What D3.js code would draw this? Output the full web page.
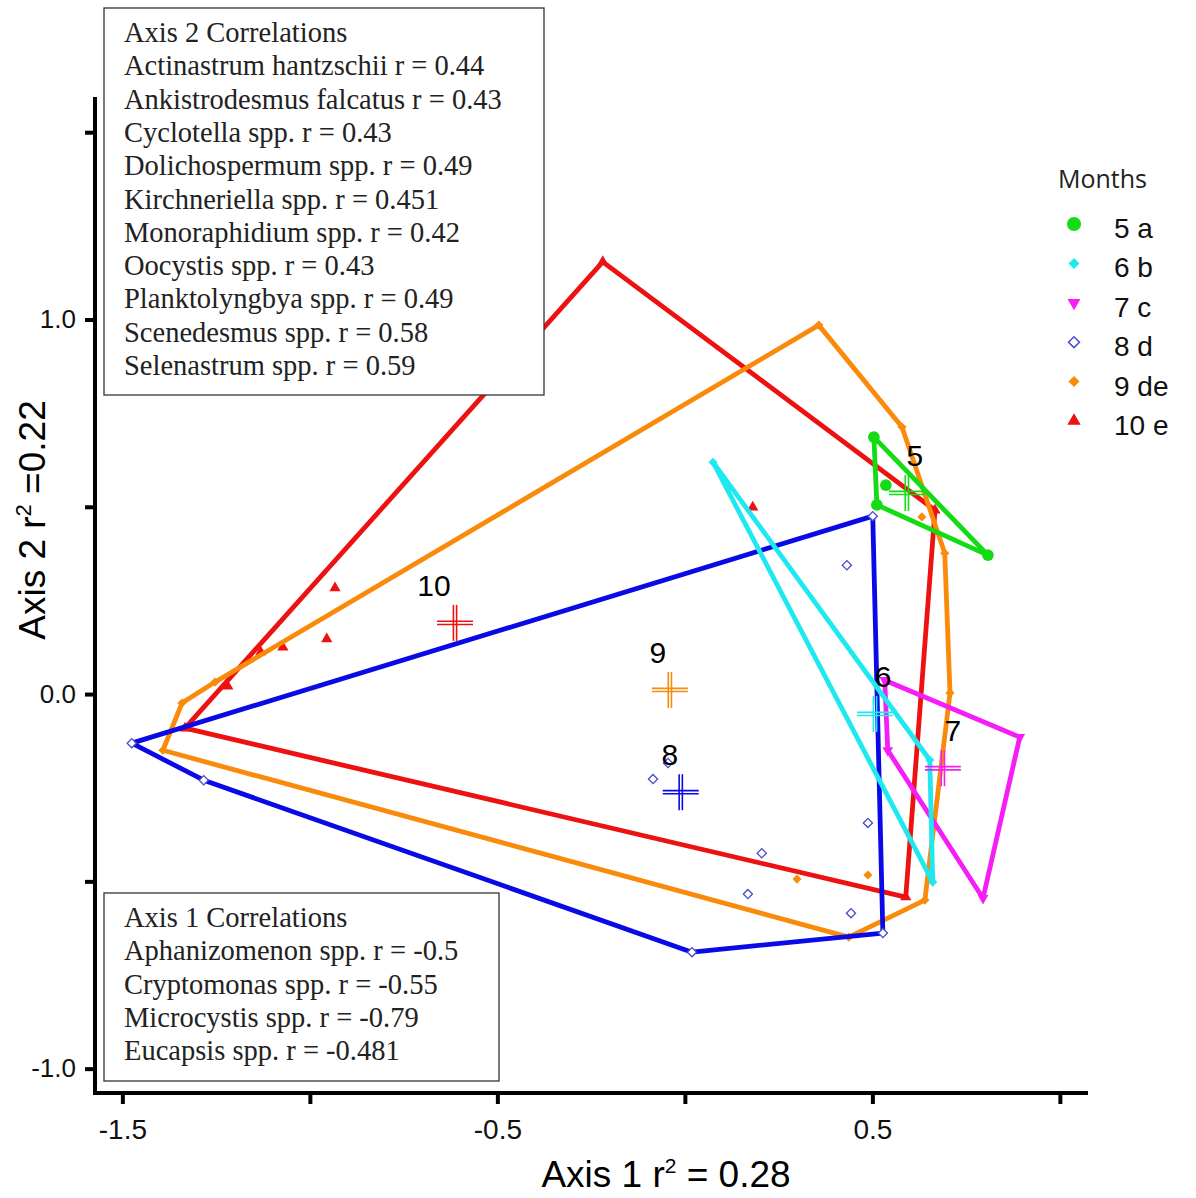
<!DOCTYPE html>
<html>
<head>
<meta charset="utf-8">
<script src="https://cdn.jsdelivr.net/npm/d3@7"></script>
<style>
  body { margin: 0; background: white; }
  .ser { font-family: "Liberation Serif", "DejaVu Serif", serif; fill: #222; }
</style>
</head>
<body>
<script>
// NMDS ordination of phytoplankton samples by month
const months = ["5", "6", "7", "8", "9", "10"]
const legendLabels = ["5 a", "6 b", "7 c", "8 d", "9 de", "10 e"]

// sample scores [axis1, axis2] per month
const pts5 = [[0.504, 0.686], [0.512, 0.505], [0.808, 0.371], [0.536, 0.558]]
const pts6 = [[0.075, 0.619], [0.653, -0.176], [0.661, -0.502]]
const pts7 = [[0.533, 0.037], [0.893, -0.115], [0.795, -0.545], [0.541, -0.150]]
const pts8 = [[-1.475, -0.131], [-1.283, -0.230], [0.019, -0.689], [0.528, -0.638], [0.501, 0.475],
              [-0.045, -0.184], [-0.085, -0.227], [0.488, -0.344], [0.205, -0.425], [0.168, -0.534],
              [0.443, -0.585], [0.432, 0.344]]
const pts9 = [[-1.392, -0.150], [-1.341, -0.024], [-1.253, 0.032], [0.357, 0.985], [0.579, 0.713],
              [0.693, 0.376], [0.707, 0.003], [0.640, -0.550], [0.437, -0.649], [0.299, -0.494],
              [0.488, -0.483], [0.632, 0.473]]
const pts10 = [[-0.219, 1.154], [0.667, 0.491], [0.589, -0.542], [-1.333, -0.091], [-1.219, 0.021],
               [-1.131, 0.112], [-1.072, 0.125], [-0.955, 0.147], [-0.933, 0.283], [0.181, 0.499]]

// group centroids
const centX = [0.592, 0.507, 0.688, -0.011, -0.040, -0.613]
const centY = [0.537, -0.053, -0.198, -0.262, 0.011, 0.190]

const xTicks = [-1.5, -1, -0.5, 0, 0.5, 1]
const xTickLabels = [-1.5, -0.5, 0.5]
const yTicks = [-1, -0.5, 0, 0.5, 1, 1.5]
const yTickLabels = [-1, 0, 1]

const axis2Title = "Axis 2 Correlations"
const axis2Corr = ["Actinastrum hantzschii r = 0.44", "Ankistrodesmus falcatus r = 0.43",
  "Cyclotella spp. r = 0.43", "Dolichospermum spp. r = 0.49", "Kirchneriella spp. r = 0.451",
  "Monoraphidium spp. r = 0.42", "Oocystis spp. r = 0.43", "Planktolyngbya spp. r = 0.49",
  "Scenedesmus spp. r = 0.58", "Selenastrum spp. r = 0.59"]
const axis1Title = "Axis 1 Correlations"
const axis1Corr = ["Aphanizomenon spp. r = -0.5", "Cryptomonas spp. r = -0.55",
  "Microcystis spp. r = -0.79", "Eucapsis spp. r = -0.481"]

const groups = [pts5, pts6, pts7, pts8, pts9, pts10]

const lineColor = ["#14dc14", "#1ee8f0", "#f51ef5", "#0a0ae6", "#fa8a0a", "#ee1111"]
const markColor = ["#14dc14", "#1ee8f0", "#f51ef5", "#4a4ad0", "#fa8a0a", "#ee1111"]
const labelDx = [8, 8, 10, -11, -12, -21]

const w = 1196, h = 1198
const svg = d3.select("body")
              .append("svg")
              .attr("width", w)
              .attr("height", h)

const xScale = d3.scaleLinear().domain([-1.573, 1.075]).range([95, 1088])
const yScale = d3.scaleLinear().domain([-1.065, 1.594]).range([1093, 97])
const fmt = d => d3.format(".1f")(d).replace("\u2212", "-")

// symbol per month
function symbolFor(i, size) {
  if (i == 0) return {path: d3.symbol(d3.symbolCircle, size * 2.6)(), rot: 0}
  if (i == 2) return {path: d3.symbol(d3.symbolTriangle, size * 1.2)(), rot: 180}
  if (i == 5) return {path: d3.symbol(d3.symbolTriangle, size * 1.3)(), rot: 0}
  return {path: d3.symbol(d3.symbolSquare, size)(), rot: 45}
}

// hulls, drawn from last month to first
const plot = svg.append("g")
for (let i = groups.length - 1; i >= 0; i--) {
  const hull = d3.polygonHull(groups[i])
  plot.append("path")
      .attr("d", d3.line().x(d => xScale(d[0])).y(d => yScale(d[1]))(hull) + "Z")
      .attr("fill", "none")
      .attr("stroke", lineColor[i])
      .attr("stroke-width", 4.8)
      .attr("stroke-linejoin", "round")

  plot.selectAll(null)
      .data(groups[i])
      .enter()
      .append("path")
      .attr("d", symbolFor(i, 42).path)
      .attr("transform", d => "translate(" + xScale(d[0]) + "," + yScale(d[1]) + ") rotate(" + symbolFor(i, 42).rot + ")")
      .attr("fill", i == 3 ? "white" : markColor[i])
      .attr("stroke", markColor[i])
      .attr("stroke-width", i == 3 ? 1.3 : 0)
}

// centroid crosses (double lines) and month labels
months.forEach((m, i) => {
  const cx = xScale(centX[i]), cy = yScale(centY[i])
  const g = plot.append("g").attr("stroke", lineColor[i]).attr("stroke-width", 1.6)
  for (const o of [-1.6, 1.6]) {
    g.append("line").attr("x1", cx - 18).attr("x2", cx + 18).attr("y1", cy + o).attr("y2", cy + o)
    g.append("line").attr("x1", cx + o).attr("x2", cx + o).attr("y1", cy - 18).attr("y2", cy + 18)
  }
  plot.append("text")
      .attr("x", cx + labelDx[i])
      .attr("y", cy - 27)
      .attr("text-anchor", "middle")
      .style("font-family", "Liberation Sans, Arial, sans-serif")
      .style("font-size", "30px")
      .text(m)
})

// axes
const xAxis = d3.axisBottom(xScale)
                .tickValues(xTicks)
                .tickSize(11)
                .tickSizeOuter(0)
                .tickFormat(d => xTickLabels.includes(d) ? fmt(d) : "")
const gx = svg.append("g")
              .attr("transform", "translate(0," + 1093 + ")")
              .call(xAxis)
gx.select(".domain").attr("stroke-width", 4).attr("d", "M93,0H1088")
gx.selectAll(".tick line").attr("stroke-width", 4)
gx.selectAll(".tick text")
  .attr("y", 26)
  .style("font-family", "Liberation Sans, Arial, sans-serif")
  .style("font-size", "28px")
  .attr("fill", "#111")

const yAxis = d3.axisLeft(yScale)
                .tickValues(yTicks)
                .tickSize(10)
                .tickSizeOuter(0)
                .tickFormat(d => yTickLabels.includes(d) ? fmt(d) : "")
const gy = svg.append("g")
              .attr("transform", "translate(" + 95 + ",0)")
              .call(yAxis)
gy.select(".domain").attr("stroke-width", 4).attr("d", "M0,97V1095")
gy.selectAll(".tick line").attr("stroke-width", 4)
gy.selectAll(".tick text")
  .attr("x", -19)
  .style("font-family", "Liberation Sans, Arial, sans-serif")
  .style("font-size", "26px")
  .attr("fill", "#111")

// axis titles
const xt = svg.append("text")
              .attr("x", 666)
              .attr("y", 1187)
              .attr("text-anchor", "middle")
              .style("font-family", "Liberation Sans, Arial, sans-serif")
              .style("font-size", "37px")
xt.append("tspan").text("Axis 1 r")
xt.append("tspan").attr("dy", -14).style("font-size", "21px").text("2")
xt.append("tspan").attr("dy", 14).text(" = 0.28")

const yt = svg.append("text")
              .attr("transform", "translate(45,520) rotate(-90)")
              .attr("text-anchor", "middle")
              .style("font-family", "Liberation Sans, Arial, sans-serif")
              .style("font-size", "37px")
yt.append("tspan").text("Axis 2 r")
yt.append("tspan").attr("dy", -14).style("font-size", "22px").text("2")
yt.append("tspan").attr("dy", 14).text(" =0.22")

// correlation boxes
function corrBox(x0, y0, bw, bh, title, lines) {
  svg.append("rect")
     .attr("x", x0).attr("y", y0).attr("width", bw).attr("height", bh)
     .attr("fill", "white").attr("stroke", "#333").attr("stroke-width", 1.3)
  const all = [title].concat(lines)
  svg.selectAll(null)
     .data(all)
     .enter()
     .append("text")
     .attr("class", "ser")
     .attr("x", x0 + 20)
     .attr("y", (d, i) => y0 + 34 + i * 33.3)
     .style("font-size", "28.5px")
     .text(d => d)
}
corrBox(104, 8, 440, 387, axis2Title, axis2Corr)
corrBox(104, 893, 395, 188, axis1Title, axis1Corr)

// legend
const legend = svg.append("g")
legend.append("text")
      .attr("x", 1058).attr("y", 188)
      .style("font-family", "Open Sans, Lato, sans-serif")
      .style("font-size", "25px")
      .attr("fill", "#222")
      .text("Months")
legendLabels.forEach((lab, i) => {
  const yy = 228 + i * 39.4
  const s = symbolFor(i, 60)
  legend.append("path")
        .attr("d", s.path)
        .attr("transform", "translate(1074," + (yy - 4) + ") rotate(" + s.rot + ")")
        .attr("fill", i == 3 ? "white" : markColor[i])
        .attr("stroke", markColor[i])
        .attr("stroke-width", i == 3 ? 1.5 : 0)
  legend.append("text")
        .attr("x", 1114).attr("y", yy + 10)
        .style("font-family", "Liberation Sans, Arial, sans-serif")
        .style("font-size", "28px")
        .attr("fill", "#111")
        .text(lab)
})
</script>
</body>
</html>
